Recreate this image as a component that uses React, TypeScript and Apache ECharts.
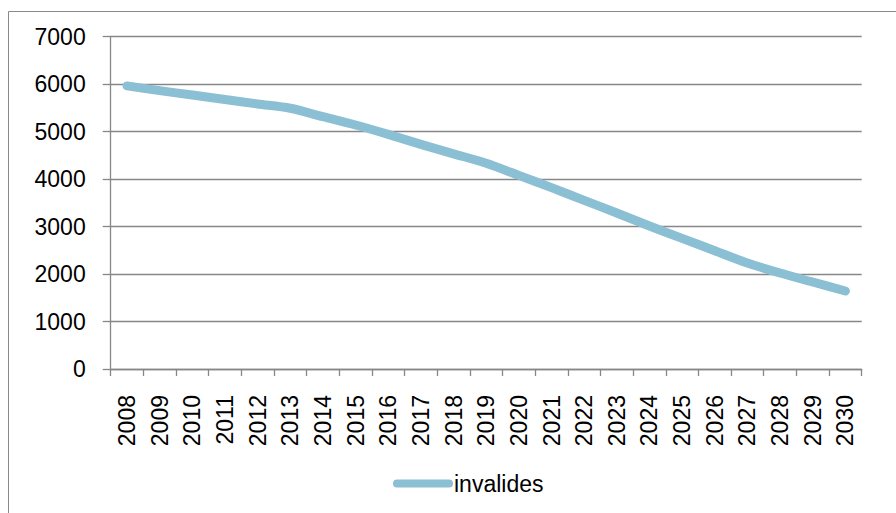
import React, { useEffect, useRef } from "react";
import * as echarts from "echarts";

const years = [
  "2008", "2009", "2010", "2011", "2012", "2013", "2014", "2015", "2016", "2017", "2018", "2019",
  "2020", "2021", "2022", "2023", "2024", "2025", "2026", "2027", "2028", "2029", "2030",
];
const invalides = [
  5960, 5860, 5768, 5674, 5580, 5490, 5312, 5137, 4940, 4730, 4530, 4331,
  4077, 3818, 3551, 3284, 3010, 2750, 2491, 2231, 2020, 1831, 1642,
];
const seriesName = "invalides";
const yMin = 0;
const yMax = 7000;
const yStep = 1000;

export default function App() {
  const ref = useRef<HTMLDivElement>(null);
  useEffect(() => {
    if (!ref.current) return;
    const chart = echarts.init(ref.current, null, { renderer: "svg" });
    const axisColor = "#878787";
    const font = "'Liberation Sans', Arial, sans-serif";
    chart.setOption({
      animation: false,
      backgroundColor: "#ffffff",
      graphic: [
        {
          type: "rect",
          shape: { x: 8.5, y: 11.5, width: 900, height: 520 },
          style: { fill: "none", stroke: "#8a8a8a", lineWidth: 1 },
          silent: true,
        },
      ],
      grid: { left: 110.7, right: 34.3, top: 36.5, bottom: 144, containLabel: false },
      legend: {
        data: [seriesName],
        left: 388,
        top: 467,
        icon: "path://M4,0 H56 A4,4 0 0 1 56,8 H4 A4,4 0 0 1 4,0 Z",
        itemWidth: 60,
        itemHeight: 9,
        itemGap: 2,
        textStyle: { fontFamily: font, fontSize: 23, color: "#000", padding: [0, 0, 0, -4] },
      },
      xAxis: {
        type: "category",
        data: years,
        boundaryGap: true,
        axisLine: { show: true, lineStyle: { color: axisColor, width: 1.3 } },
        axisTick: { show: true, interval: 0, length: 7, lineStyle: { color: axisColor, width: 1.3 } },
        axisLabel: {
          interval: 0,
          rotate: 90,
          margin: 26,
          fontFamily: font,
          fontSize: 23,
          color: "#000",
        },
        splitLine: { show: false },
      },
      yAxis: {
        type: "value",
        min: yMin,
        max: yMax,
        interval: yStep,
        axisLine: { show: true, lineStyle: { color: axisColor, width: 1.3 } },
        axisTick: { show: true, length: 8, lineStyle: { color: axisColor, width: 1.3 } },
        axisLabel: {
          margin: 25,
          fontFamily: font,
          fontSize: 23,
          color: "#000",
          formatter: (v: number) => String(v),
        },
        splitLine: { show: true, lineStyle: { color: axisColor, width: 1.3 } },
      },
      series: [
        {
          name: seriesName,
          type: "line",
          data: invalides,
          smooth: 0.3,
          showSymbol: false,
          symbol: "none",
          lineStyle: { color: "#8bbfd3", width: 9, cap: "round", join: "round" },
          itemStyle: { color: "#8bbfd3" },
        },
      ],
    });
    return () => chart.dispose();
  }, []);
  return (
    <div
      ref={ref}
      style={{ position: "absolute", left: 0, top: 0, width: 896, height: 513 }}
    />
  );
}
